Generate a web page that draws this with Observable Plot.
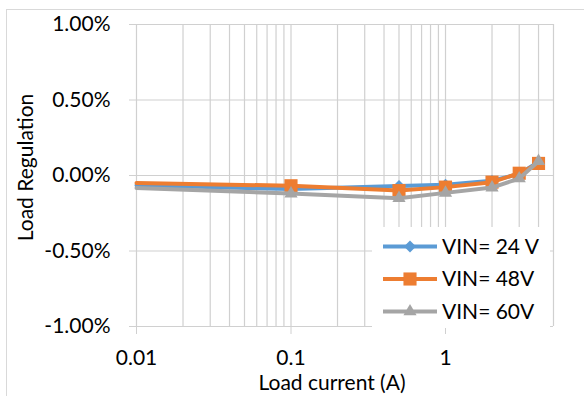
<!DOCTYPE html>
<html><head><meta charset="utf-8">
<script src="https://cdn.jsdelivr.net/npm/d3@7"></script>
<script src="https://cdn.jsdelivr.net/npm/@observablehq/plot@0.6"></script>
<style>
body{margin:0;background:#fff;font-family:Lato, sans-serif}
#wrap{position:relative;width:584px;height:396px;overflow:hidden;background:#fff}
#frame{position:absolute;left:6px;top:9px;width:700px;height:500px;border:1px solid #d9d9d9;box-sizing:border-box;pointer-events:none}
#chart{position:absolute;left:0;top:0}
#legend{position:absolute;left:372px;top:227px}
</style></head><body>
<div id="wrap"><div id="chart"></div><div id="legend"></div><div id="frame"></div></div>
<script>
// ---- data ----
const loadCurrent = [0.01, 0.1, 0.5, 1, 2, 3, 4];
const vin24 = [-0.065, -0.09, -0.07, -0.062, -0.035, 0.01, 0.09];
const vin48 = [-0.05, -0.068, -0.10, -0.077, -0.044, 0.015, 0.08];
const vin60 = [-0.083, -0.12, -0.15, -0.115, -0.08, -0.02, 0.095];
const seriesNames = ["VIN= 24 V", "VIN= 48V", "VIN= 60V"];
const seriesValues = [vin24, vin48, vin60];
const seriesColors = ["#5B9BD5", "#ED7D31", "#A5A5A5"];
const seriesSymbols = ["diamond2", "square", "triangle"];
const xTicks = [0.01, 0.1, 1];
const xTickLabels = ["0.01", "0.1", "1"];
const yTicks = [-1, -0.5, 0, 0.5, 1];
const xDomain = [0.01, 5];
const yDomain = [-1, 1];
const xTitle = "Load current (A)";
const yTitle = "Load Regulation";

// log-scale minor gridlines (1..9 per decade) within the domain
const xGrid = xTicks.flatMap(d => d3.range(1, 10).map(k => +(k * d).toPrecision(6))).filter(v => v <= xDomain[1]);

const FONT = "Lato, 'Open Sans', sans-serif";
const FS = 21;
const gridColor = "#d0d0d0";
const symSize = {diamond2: 5.4, square: 7.4, triangle: 4.9};

const seriesData = seriesValues.map((vals, s) => loadCurrent.map((x, i) => ({x, y: vals[i], s})));

const marks = [
  Plot.ruleX(xGrid, {stroke: gridColor, strokeWidth: 1.2}),
  Plot.ruleY(yTicks, {stroke: gridColor, strokeWidth: 1.2}),
  Plot.axisX({ticks: xTicks, tickFormat: d => xTickLabels[xTicks.indexOf(d)], tickSize: 8, tickPadding: 16,
    stroke: gridColor, fill: "#000", fontSize: FS, label: null}),
  Plot.axisY({ticks: yTicks, tickFormat: d => d.toFixed(2) + "%", tickSize: 7, tickPadding: 19,
    stroke: gridColor, fill: "#000", fontSize: FS, label: null}),
];
seriesData.forEach((rows, s) => {
  marks.push(Plot.line(rows, {x: "x", y: "y", stroke: seriesColors[s], strokeWidth: 4, strokeLinejoin: "round"}));
  marks.push(Plot.dot(rows.filter(d => d.x > xDomain[0]), {x: "x", y: "y", symbol: seriesSymbols[s],
    fill: seriesColors[s], stroke: "none", r: symSize[seriesSymbols[s]]}));
});
marks.push(Plot.text([xTitle], {text: d => d, frameAnchor: "bottom", textAnchor: "middle", lineAnchor: "middle",
  dx: -13, dy: 57, fontSize: FS, fill: "#000"}));
marks.push(Plot.text([yTitle], {text: d => d, frameAnchor: "left", textAnchor: "middle", lineAnchor: "middle",
  rotate: -90, dx: -110, dy: -8, fontSize: FS, fill: "#000"}));

const chart = Plot.plot({
  width: 584, height: 396,
  marginLeft: 136, marginRight: 31, marginTop: 24, marginBottom: 70,
  x: {type: "log", domain: xDomain, axis: null},
  y: {type: "linear", domain: yDomain, axis: null},
  style: {fontFamily: FONT, fontSize: FS + "px", background: "transparent", color: "#000"},
  marks
});
document.getElementById("chart").appendChild(chart);

// ---- legend ----
const symMap = {diamond2: d3.symbolDiamond2, square: d3.symbolSquare, triangle: d3.symbolTriangle};
const lg = d3.select("#legend").append("svg").attr("width", 178).attr("height", 101);
lg.append("rect").attr("width", 178).attr("height", 101).attr("fill", "#fff");
const rowY = [19.5, 52, 84.5];
seriesNames.forEach((name, s) => {
  const g = lg.append("g").attr("transform", `translate(0,${rowY[s]})`);
  g.append("line").attr("x1", 11).attr("x2", 65).attr("stroke", seriesColors[s]).attr("stroke-width", 4);
  const r = symSize[seriesSymbols[s]];
  g.append("path").attr("transform", "translate(38,0)")
    .attr("d", d3.symbol(symMap[seriesSymbols[s]], r * r * Math.PI)())
    .attr("fill", seriesColors[s]);
  g.append("text").attr("x", 70).attr("dy", "0.35em").attr("font-family", FONT).attr("font-size", FS)
    .attr("fill", "#000").text(name);
});
</script>
</body></html>
